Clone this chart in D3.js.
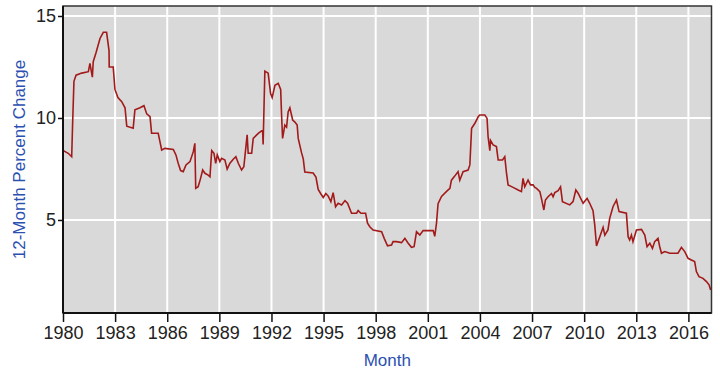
<!DOCTYPE html>
<html>
<head>
<meta charset="utf-8">
<script src="https://cdn.jsdelivr.net/npm/d3@7"></script>
<style>
  body { margin: 0; background: #ffffff; }
  .tick text { font-family: "Liberation Sans", Arial, sans-serif; font-size: 18px; fill: #222; }
  .titles { font-family: "Liberation Sans", Arial, sans-serif; font-size: 17px; fill: #2b50b0; }
</style>
</head>
<body>
<svg id="chart" width="720" height="375"></svg>
<script>

// 12-month percent change, vertices (decimal year)
var years = [
  1980.02, 1980.30, 1980.50, 1980.56, 1980.63, 1980.75, 1981.08, 1981.46, 1981.55, 1981.69,
  1981.74, 1981.90, 1982.13, 1982.32, 1982.51, 1982.65, 1982.66, 1982.89, 1982.99, 1983.16,
  1983.38, 1983.57, 1983.67, 1984.04, 1984.14, 1984.43, 1984.66, 1984.82, 1985.01, 1985.10,
  1985.48, 1985.58, 1985.68, 1985.87, 1986.35, 1986.50, 1986.63, 1986.77, 1986.92, 1987.08,
  1987.31, 1987.50, 1987.59, 1987.64, 1987.78, 1987.92, 1988.04, 1988.17, 1988.36, 1988.46,
  1988.56, 1988.69, 1988.79, 1988.88, 1989.03, 1989.13, 1989.32, 1989.45, 1989.61, 1989.80,
  1989.95, 1990.09, 1990.28, 1990.41, 1990.53, 1990.60, 1990.66, 1990.86, 1990.95, 1991.15,
  1991.29, 1991.49, 1991.52, 1991.57, 1991.62, 1991.81, 1991.95, 1992.04, 1992.20, 1992.39,
  1992.53, 1992.58, 1992.64, 1992.77, 1992.87, 1992.96, 1993.06, 1993.22, 1993.35, 1993.48,
  1993.54, 1993.73, 1993.83, 1993.92, 1994.40, 1994.56, 1994.69, 1994.83, 1994.98, 1995.13,
  1995.26, 1995.42, 1995.55, 1995.69, 1995.84, 1996.04, 1996.23, 1996.38, 1996.61, 1996.90,
  1996.99, 1997.15, 1997.42, 1997.53, 1997.66, 1997.85, 1998.34, 1998.49, 1998.68, 1998.91,
  1999.00, 1999.20, 1999.49, 1999.68, 1999.87, 2000.06, 2000.21, 2000.35, 2000.54, 2000.73,
  2000.93, 2001.31, 2001.40, 2001.50, 2001.59, 2001.79, 2002.08, 2002.27, 2002.36, 2002.55,
  2002.74, 2002.84, 2003.03, 2003.32, 2003.42, 2003.52, 2003.71, 2003.90, 2003.99, 2004.28,
  2004.41, 2004.47, 2004.57, 2004.61, 2004.76, 2004.95, 2005.05, 2005.30, 2005.43, 2005.53,
  2005.62, 2005.91, 2006.20, 2006.39, 2006.48, 2006.58, 2006.77, 2006.91, 2007.06, 2007.16,
  2007.26, 2007.45, 2007.54, 2007.68, 2007.77, 2007.92, 2008.12, 2008.21, 2008.31, 2008.50,
  2008.64, 2008.75, 2009.17, 2009.36, 2009.52, 2009.65, 2009.94, 2010.17, 2010.32, 2010.51,
  2010.61, 2010.71, 2010.90, 2011.09, 2011.19, 2011.37, 2011.47, 2011.66, 2011.86, 2012.01,
  2012.43, 2012.53, 2012.62, 2012.72, 2012.81, 2013.01, 2013.30, 2013.49, 2013.62, 2013.78,
  2013.93, 2014.06, 2014.25, 2014.35, 2014.45, 2014.64, 2014.93, 2015.40, 2015.60, 2015.79,
  2015.98, 2016.17, 2016.36, 2016.46, 2016.61, 2016.84, 2017.04, 2017.19, 2017.28
];

var values = [
  8.40, 8.27, 8.10, 9.90, 11.80, 12.10, 12.20, 12.27, 12.68, 12.00,
  12.76, 13.20, 13.90, 14.20, 14.20, 13.30, 12.50, 12.50, 11.40, 11.00,
  10.80, 10.50, 9.60, 9.50, 10.40, 10.50, 10.60, 10.20, 10.06, 9.25,
  9.25, 8.84, 8.43, 8.51, 8.46, 8.19, 7.78, 7.42, 7.37, 7.70,
  7.86, 8.35, 8.76, 6.55, 6.63, 7.04, 7.45, 7.29, 7.20, 7.12,
  8.40, 8.27, 7.78, 8.19, 7.86, 8.02, 7.94, 7.49, 7.78, 7.98,
  8.10, 7.78, 7.45, 7.61, 8.60, 9.17, 8.27, 8.27, 9.00, 9.17,
  9.28, 9.40, 8.70, 10.50, 12.30, 12.20, 11.20, 11.00, 11.60, 11.70,
  11.40, 10.20, 9.00, 9.65, 9.55, 10.30, 10.50, 9.90, 9.80, 9.65,
  9.00, 8.30, 8.00, 7.35, 7.30, 7.10, 6.50, 6.30, 6.10, 6.30,
  6.18, 5.90, 6.34, 5.65, 5.82, 5.74, 5.95, 5.82, 5.33, 5.33,
  5.46, 5.33, 5.33, 4.84, 4.67, 4.51, 4.43, 4.10, 3.73, 3.77,
  3.94, 3.94, 3.89, 4.10, 3.86, 3.66, 3.69, 4.43, 4.26, 4.48,
  4.48, 4.48, 4.20, 4.85, 5.80, 6.15, 6.40, 6.55, 6.95, 7.15,
  7.37, 6.95, 7.37, 7.45, 7.70, 9.50, 9.74, 10.06, 10.15, 10.15,
  9.98, 9.08, 8.40, 8.90, 8.68, 8.60, 7.94, 7.94, 8.10, 7.30,
  6.72, 6.60, 6.47, 6.39, 7.04, 6.63, 6.96, 6.72, 6.72, 6.60,
  6.55, 6.39, 6.06, 5.49, 5.98, 6.14, 6.30, 6.14, 6.34, 6.44,
  6.63, 5.90, 5.74, 5.90, 6.47, 6.31, 5.82, 6.06, 5.82, 5.46,
  4.75, 3.73, 4.18, 4.64, 4.26, 4.51, 5.08, 5.65, 5.98, 5.41,
  5.33, 4.18, 4.02, 4.26, 3.94, 4.51, 4.54, 4.26, 3.69, 3.86,
  3.61, 3.94, 4.10, 3.69, 3.37, 3.45, 3.37, 3.37, 3.66, 3.45,
  3.12, 3.04, 2.96, 2.47, 2.22, 2.14, 1.98, 1.82, 1.57
];

var yearTicks = [1980, 1983, 1986, 1989, 1992, 1995, 1998, 2001, 2004, 2007, 2010, 2013, 2016];
var valueTicks = [5, 10, 15];

var svg = d3.select("#chart");
var margin = {top: 6, right: 8.5, bottom: 62, left: 63};
var width = +svg.attr("width") - margin.left - margin.right,
    height = +svg.attr("height") - margin.top - margin.bottom;

var g = svg.append("g").attr("transform", "translate(" + margin.left + "," + margin.top + ")");

// scales
var x = d3.scaleLinear().domain([1980, 2017.33]).range([0, width]);
var y = d3.scaleLinear().domain([0.44, 15.49]).range([height, 0]);

// plot background
g.append("rect")
  .attr("width", width)
  .attr("height", height)
  .attr("fill", "#d9d9d9");

// grid
g.selectAll("line.vgrid")
  .data(yearTicks)
  .enter().append("line")
  .attr("class", "vgrid")
  .attr("x1", (d) => { return x(d); })
  .attr("x2", (d) => { return x(d); })
  .attr("y1", 0)
  .attr("y2", height)
  .attr("stroke", "#ffffff")
  .attr("stroke-width", 2);

g.selectAll("line.hgrid")
  .data(valueTicks)
  .enter().append("line")
  .attr("class", "hgrid")
  .attr("x1", 0)
  .attr("x2", width)
  .attr("y1", (d) => { return y(d); })
  .attr("y2", (d) => { return y(d); })
  .attr("stroke", "#ffffff")
  .attr("stroke-width", 2);

// series
var line = d3.line()
  .x((d) => { return x(d[0]); })
  .y((d) => { return y(d[1]); });

g.append("path")
  .datum(d3.zip(years, values))
  .attr("fill", "none")
  .attr("stroke", "#a31a1a")
  .attr("stroke-width", 1.6)
  .attr("stroke-linejoin", "miter")
  .attr("d", line);

// frame
g.append("rect")
  .attr("width", width)
  .attr("height", height)
  .attr("fill", "none")
  .attr("stroke", "#333")
  .attr("stroke-width", 1.5);

// axes
var xaxis = g.append("g")
  .attr("class", "axis axis--x")
  .attr("transform", "translate(0," + height + ")")
  .call(d3.axisBottom(x).tickValues(yearTicks).tickFormat(d3.format("d")).tickSize(9).tickPadding(4));

var yaxis = g.append("g")
  .attr("class", "axis axis--y")
  .call(d3.axisLeft(y).tickValues(valueTicks).tickSize(5).tickPadding(2));

g.selectAll(".axis path, .axis line").attr("stroke", "#111").attr("stroke-width", 1.5);
g.selectAll(".axis path").attr("stroke-width", 2);
xaxis.select(".domain").attr("d", "M0,0H" + width);
yaxis.select(".domain").attr("d", "M0," + height + "V0");

// titles
g.append("text")
  .text("Month")
  .attr("class", "titles")
  .attr("text-anchor", "middle")
  .attr("transform", "translate(" + width / 2 + "," + (height + 53) + ")");

g.append("text")
  .text("12-Month Percent Change")
  .attr("class", "titles")
  .attr("text-anchor", "middle")
  .attr("transform", "translate(" + (25 - margin.left) + "," + height / 2 + ")rotate(-90)");

</script>
</body>
</html>
